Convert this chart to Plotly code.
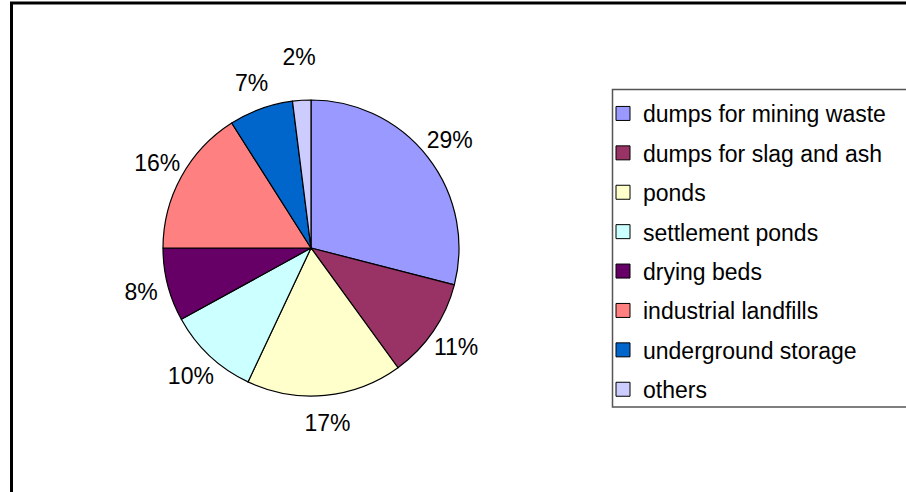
import plotly.graph_objects as go

categories = ["dumps for mining waste", "dumps for slag and ash", "ponds",
              "settlement ponds", "drying beds", "industrial landfills",
              "underground storage", "others"]
values = [29, 11, 17, 10, 8, 16, 7, 2]
colors = ["#9999FF", "#993366", "#FFFFCC", "#CCFFFF", "#660066",
          "#FF8080", "#0066CC", "#CCCCFF"]

W, H = 906, 492
FONT = "Arial, Liberation Sans, sans-serif"

# pie geometry in pixels
cx, cy, r = 311, 248, 148
R_LABEL = 203  # outer radius of the transparent label ring


def dom(rad):
    return dict(x=[(cx - rad) / W, (cx + rad) / W],
                y=[(H - cy - rad) / H, (H - cy + rad) / H])


fig = go.Figure()
# visible pie
fig.add_trace(go.Pie(
    labels=categories, values=values,
    marker=dict(colors=colors, line=dict(color="black", width=1.2)),
    sort=False, direction="clockwise", rotation=0,
    textinfo="none", domain=dom(r),
    showlegend=False, hoverinfo="skip",
))
# transparent ring carrying the percentage labels just outside the pie
fig.add_trace(go.Pie(
    labels=categories, values=values,
    marker=dict(colors=["rgba(0,0,0,0)"] * len(values),
                line=dict(width=0)),
    sort=False, direction="clockwise", rotation=0,
    hole=r / R_LABEL, domain=dom(R_LABEL),
    textposition="inside", insidetextorientation="horizontal",
    texttemplate="%{percent:.0%}",
    textfont=dict(family=FONT, size=23, color="black"),
    showlegend=False, hoverinfo="skip",
))

for i, (cat, col) in enumerate(zip(categories, colors)):
    fig.add_trace(go.Scatter(
        x=[None], y=[None], mode="markers", name=cat,
        legendgroup=f"g{i}",
        marker=dict(symbol="square", size=14, color=col,
                    line=dict(color="black", width=1)),
    ))

fig.update_layout(
    width=W, height=H,
    margin=dict(l=0, r=0, t=0, b=0),
    paper_bgcolor="white", plot_bgcolor="white",
    xaxis=dict(visible=False), yaxis=dict(visible=False),
    font=dict(family=FONT, color="black"),
    uniformtext=dict(minsize=23, mode="show"),
    legend=dict(
        x=603 / W, y=1 - 92 / H, xanchor="left", yanchor="top",
        xref="paper", yref="paper",
        font=dict(family=FONT, size=23, color="black"),
        traceorder="grouped", tracegroupgap=6.5,
        bgcolor="rgba(0,0,0,0)", borderwidth=0,
    ),
    shapes=[
        # outer chart frame (extends past right/bottom edges)
        dict(type="rect", xref="paper", yref="paper",
             x0=11.5 / W, x1=1.05, y0=-0.05, y1=1 - 3 / H,
             line=dict(color="black", width=3), layer="below"),
        # legend frame
        dict(type="rect", xref="paper", yref="paper",
             x0=612.5 / W, x1=1.05, y0=1 - 407 / H, y1=1 - 89.5 / H,
             line=dict(color="#555555", width=1.5), layer="below"),
    ],
)

fig.write_html("out.html",
               config={"displayModeBar": False, "staticPlot": True},
               post_script="document.body.style.margin='0';"
                           "document.body.style.overflow='hidden';")
